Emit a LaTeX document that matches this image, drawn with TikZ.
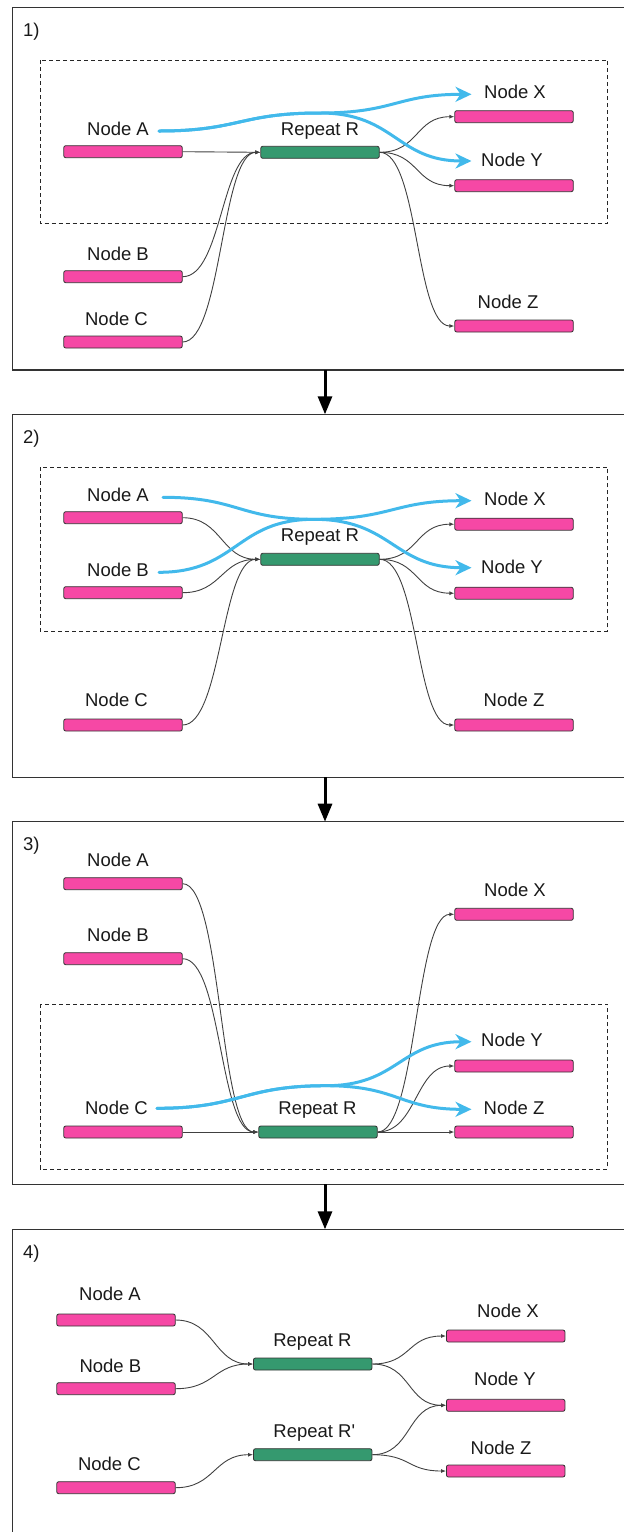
\documentclass[tikz,border=0pt]{standalone}
\usepackage{fontspec}
\setmainfont{Liberation Sans}
\usetikzlibrary{arrows.meta}
\definecolor{barpink}{RGB}{246,72,165}
\definecolor{bargreen}{RGB}{53,153,111}
\definecolor{flow}{RGB}{66,185,235}
\begin{document}
\begin{tikzpicture}[x=1pt,y=-1pt,
  bar/.style={draw=black!80, line width=0.8pt, rounded corners=2pt,
    minimum width=118.5pt, minimum height=12pt, inner sep=0pt},
  pinkbar/.style={bar, fill=barpink},
  greenbar/.style={bar, fill=bargreen},
  lbl/.style={anchor=base, inner sep=0pt, font=\fontsize{18.5}{22}\selectfont, text=black!90},
  tag/.style={lbl, anchor=base west},
  frame/.style={draw=black!80, line width=1.2pt},
  zone/.style={draw=black!85, line width=0.8pt, dash pattern=on 4pt off 3pt},
  conn/.style={draw=black!75, line width=0.9pt, -{Latex[length=5pt,width=4pt]}},
  hc/.style={out=0, in=180, distance=39pt},
  flowline/.style={draw=flow, line width=3pt, line cap=round,
    -{Stealth[length=16pt,width=15pt,inset=5pt]}},
  stagearrow/.style={draw=black, line width=3pt, -{Triangle[length=18pt,width=14pt]}}
]
\useasboundingbox (0,0) rectangle (624,1532);
\clip (0,0) rectangle (624,1532);

% ---------- frames of the four stages ----------
\draw[frame] (12.7,7.3) rectangle (640,370);
\draw[frame] (12.7,414.3) rectangle (640,777.3);
\draw[frame] (12.7,821.7) rectangle (640,1184.3);
\draw[frame] (12.7,1229.3) rectangle (640,1560);

\coordinate (f1b) at (325,370);   \coordinate (f2t) at (325,414.3);
\coordinate (f2b) at (325,777.3); \coordinate (f3t) at (325,821.7);
\coordinate (f3b) at (325,1184.3);\coordinate (f4t) at (325,1229.3);
\draw[stagearrow] (f1b) -- (f2t);
\draw[stagearrow] (f2b) -- (f3t);
\draw[stagearrow] (f3b) -- (f4t);

% ================= stage 1 =================
\node[tag] (t1) at (23,36.7) {1)};
\draw[zone] (40,60) rectangle (607.6,223.3);
\node[pinkbar]  (a1) at (123,151.7) {};
\node[greenbar] (r1) at (320,152.3) {};
\node[pinkbar]  (x1) at (514,116.7) {};
\node[pinkbar]  (y1) at (514,185.7) {};
\node[pinkbar]  (b1) at (123,276.7) {};
\node[pinkbar]  (c1) at (123,342) {};
\node[pinkbar]  (z1) at (514,326) {};
\node[lbl] (la1) at (118,135) {Node A};
\node[lbl] (lr1) at (320,135) {Repeat R};
\node[lbl] (lx1) at (515,98.3) {Node X};
\node[lbl] (ly1) at (512,166) {Node Y};
\node[lbl] (lb1) at (118,260) {Node B};
\node[lbl] (lc1) at (116.5,325) {Node C};
\node[lbl] (lz1) at (508,308) {Node Z};
\draw[conn] (a1.east) -- (r1.west);
\draw[conn] (b1.east) to[hc] (r1.west);
\draw[conn] (c1.east) to[hc] (r1.west);
\draw[conn] (r1.east) to[hc] (x1.west);
\draw[conn] (r1.east) to[hc] (y1.west);
\draw[conn] (r1.east) to[hc] (z1.west);
\coordinate (s1) at (159,131);
\coordinate (m1) at (320,113);
\coordinate (px1) at (471.5,94.3);
\coordinate (py1) at (471.5,161);
\draw[flowline] (s1) .. controls +(80,0) and +(-80,0) .. (m1)
  .. controls +(75,0) and +(-75,0) .. (px1);
\draw[flowline] (s1) .. controls +(80,0) and +(-80,0) .. (m1)
  .. controls +(75,0) and +(-75,0) .. (py1);

% ================= stage 2 =================
\node[tag] (t2) at (23,443.7) {2)};
\draw[zone] (40,467.3) rectangle (607.6,631);
\node[pinkbar]  (a2) at (123,517.7) {};
\node[pinkbar]  (b2) at (123,592.7) {};
\node[greenbar] (r2) at (320,559.3) {};
\node[pinkbar]  (x2) at (514,524.2) {};
\node[pinkbar]  (y2) at (514,593.2) {};
\node[pinkbar]  (c2) at (123,725) {};
\node[pinkbar]  (z2) at (514,725) {};
\node[lbl] (la2) at (118,501.7) {Node A};
\node[lbl] (lb2) at (118,576.7) {Node B};
\node[lbl] (lr2) at (320,541.7) {Repeat R};
\node[lbl] (lx2) at (515,505) {Node X};
\node[lbl] (ly2) at (512,573.3) {Node Y};
\node[lbl] (lc2) at (116.5,706.7) {Node C};
\node[lbl] (lz2) at (514,706.7) {Node Z};
\draw[conn] (a2.east) to[hc] (r2.west);
\draw[conn] (b2.east) to[hc] (r2.west);
\draw[conn] (c2.east) to[hc] (r2.west);
\draw[conn] (r2.east) to[hc] (x2.west);
\draw[conn] (r2.east) to[hc] (y2.west);
\draw[conn] (r2.east) to[hc] (z2.west);
\coordinate (sa2) at (163,497.3);
\coordinate (sb2) at (159,572.3);
\coordinate (m2) at (314,519.3);
\coordinate (px2) at (471.5,500.7);
\coordinate (py2) at (471.5,567.7);
\draw[flowline] (sa2) .. controls +(76,0) and +(-76,0) .. (m2)
  .. controls +(78,0) and +(-78,0) .. (py2);
\draw[flowline] (sb2) .. controls +(78,0) and +(-78,0) .. (m2)
  .. controls +(78,0) and +(-78,0) .. (px2);

% ================= stage 3 =================
\node[tag] (t3) at (23,850) {3)};
\draw[zone] (40,1004.3) rectangle (607.6,1169);
\node[pinkbar]  (a3) at (123,883.7) {};
\node[pinkbar]  (b3) at (123,958.7) {};
\node[pinkbar]  (x3) at (514,914.3) {};
\node[pinkbar]  (y3) at (514,1066) {};
\node[pinkbar]  (c3) at (123,1132) {};
\node[greenbar] (r3) at (318,1132) {};
\node[pinkbar]  (z3) at (514,1132) {};
\node[lbl] (la3) at (118,866.7) {Node A};
\node[lbl] (lb3) at (118,941.7) {Node B};
\node[lbl] (lx3) at (515,896) {Node X};
\node[lbl] (ly3) at (512,1046) {Node Y};
\node[lbl] (lc3) at (116.5,1114.3) {Node C};
\node[lbl] (lr3) at (317.5,1114.3) {Repeat R};
\node[lbl] (lz3) at (514,1114.3) {Node Z};
\draw[conn] (a3.east) to[hc] (r3.west);
\draw[conn] (b3.east) to[hc] (r3.west);
\draw[conn] (c3.east) -- (r3.west);
\draw[conn] (r3.east) to[hc] (x3.west);
\draw[conn] (r3.east) to[hc] (y3.west);
\draw[conn] (r3.east) -- (z3.west);
\coordinate (s3) at (157,1108.3);
\coordinate (m3) at (326,1085.7);
\coordinate (py3) at (471.5,1041.7);
\coordinate (pz3) at (471.5,1109.3);
\draw[flowline] (s3) .. controls +(84,0) and +(-84,0) .. (m3)
  .. controls +(72,0) and +(-72,0) .. (py3);
\draw[flowline] (s3) .. controls +(84,0) and +(-84,0) .. (m3)
  .. controls +(72,0) and +(-72,0) .. (pz3);

% ================= stage 4 =================
\node[tag] (t4) at (23,1258.7) {4)};
\node[pinkbar]  (a4) at (116,1320) {};
\node[pinkbar]  (b4) at (116,1388.7) {};
\node[pinkbar]  (c4) at (116,1487.7) {};
\node[greenbar] (r4) at (312.7,1364) {};
\node[greenbar] (rp4) at (312.7,1454.7) {};
\node[pinkbar]  (x4) at (505.7,1336) {};
\node[pinkbar]  (y4) at (505.7,1405.3) {};
\node[pinkbar]  (z4) at (505.7,1471) {};
\node[lbl] (la4) at (110,1300) {Node A};
\node[lbl] (lb4) at (110.4,1372.7) {Node B};
\node[lbl] (lc4) at (109.4,1470.7) {Node C};
\node[lbl] (lr4) at (312.4,1346.7) {Repeat R};
\node[lbl] (lrp4) at (314.3,1437.3) {Repeat R\textquotesingle};
\node[lbl] (lx4) at (508,1317.3) {Node X};
\node[lbl] (ly4) at (505,1385.7) {Node Y};
\node[lbl] (lz4) at (501,1454) {Node Z};
\draw[conn] (a4.east) to[hc] (r4.west);
\draw[conn] (b4.east) to[hc] (r4.west);
\draw[conn] (c4.east) to[hc] (rp4.west);
\draw[conn] (r4.east) to[hc] (x4.west);
\draw[conn] (r4.east) to[hc] (y4.west);
\draw[conn] (rp4.east) to[hc] (y4.west);
\draw[conn] (rp4.east) to[hc] (z4.west);
\end{tikzpicture}
\end{document}
